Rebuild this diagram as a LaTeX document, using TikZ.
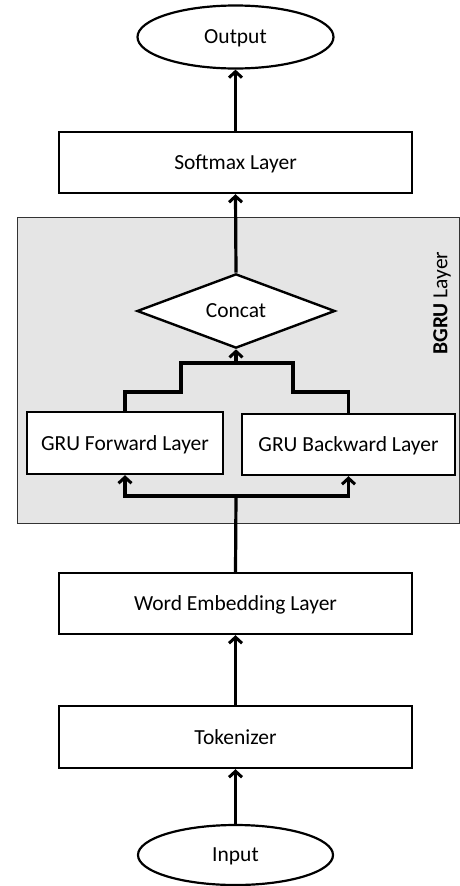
\documentclass[tikz,border=0pt]{standalone}
\usepackage{fontspec}
\setmainfont{Carlito}
\usetikzlibrary{shapes.geometric,arrows.meta}
\begin{document}
\begin{tikzpicture}[x=1pt,y=-1pt,
  every node/.style={font=\fontsize{21.5}{24}\selectfont},
  txt/.style={text depth=0pt},
  box/.style={txt,draw,line width=2.4pt,fill=white,rectangle,inner sep=0pt},
  oval/.style={txt,draw,line width=2.2pt,fill=white,ellipse,inner sep=0pt},
  dia/.style={txt,draw,line width=2.4pt,fill=white,diamond,inner sep=0pt},
  arr/.style={line width=3.2pt,-{Straight Barb[length=6pt,width=13pt,line width=3pt]}},
  ln/.style={line width=3.2pt}]
\useasboundingbox (0,0) rectangle (459,886);
\node[draw=black!80,line width=0.8pt,fill=gray!20,minimum width=442pt,minimum height=306pt,inner sep=0pt,anchor=north west] (grp) at (17,217) {};
\node[rotate=90] (lbl) at (442,303) {\textbf{BGRU} Layer};
\node[oval,minimum width=196pt,minimum height=63pt] (out) at (235.5,37) {Output};
\node[box,minimum width=353pt,minimum height=61pt] (soft) at (235.5,162.5) {Softmax Layer};
\node[dia,minimum width=198pt,minimum height=56pt] (cat) at (236,311) {Concat};
\node[box,minimum width=196pt,minimum height=62pt] (fwd) at (125,443) {GRU Forward Layer};
\node[box,minimum width=213pt,minimum height=61pt] (bwd) at (348.5,444.5) {GRU Backward Layer};
\node[box,minimum width=353pt,minimum height=61pt] (emb) at (235.5,603.5) {Word Embedding Layer};
\node[box,minimum width=353pt,minimum height=62pt] (tok) at (235.5,737) {Tokenizer};
\node[oval,minimum width=195pt,minimum height=60pt] (inp) at (235.5,855) {Input};
\coordinate (m1) at (181,392);
\coordinate (m2) at (181,363);
\coordinate (m3) at (293,363);
\coordinate (m4) at (293,392);
\coordinate (mtop) at (236,363);
\coordinate (split) at (236,496);
\draw[arr] (soft.north) -- (out.south);
\draw[arr] (cat.north) -- (soft.south);
\draw[ln,line join=miter] (fwd.north) |- (m1) -- (m2) -- (m3) -- (m4) -| (bwd.north);
\draw[arr] (mtop) -- (cat.south);
\draw[ln] (emb.north) -- (split);
\draw[arr] (split) -| (fwd.south);
\draw[arr] (split) -| (bwd.south);
\draw[arr] (tok.north) -- (emb.south);
\draw[arr] (inp.north) -- (tok.south);
\end{tikzpicture}
\end{document}
